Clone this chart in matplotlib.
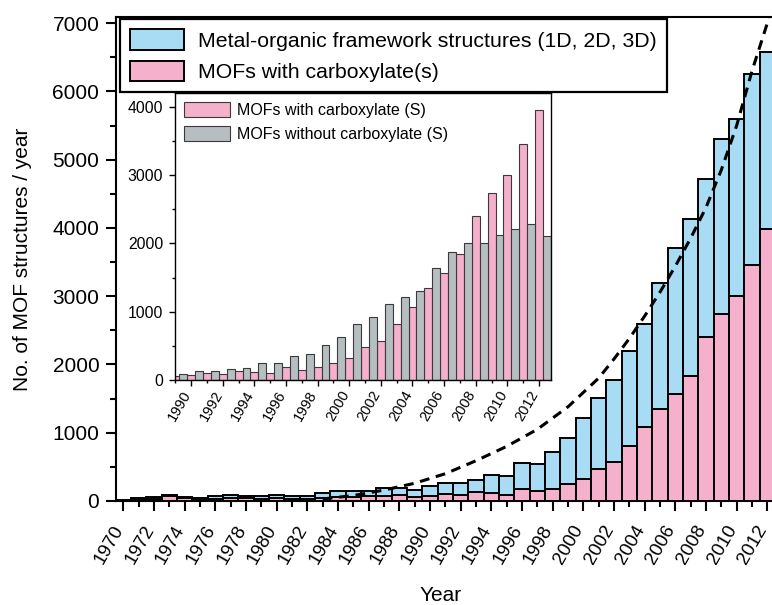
import matplotlib
matplotlib.use('Agg')
import matplotlib.pyplot as plt
import numpy as np
from matplotlib.ticker import MultipleLocator
from matplotlib.patches import Patch

plt.rcParams['font.family'] = ['Liberation Sans', 'DejaVu Sans']

# ---------------- data ----------------
years = list(range(1970, 2013))
total_mofs = [15, 40, 54, 85, 59, 44, 69, 88, 78, 73,
              88, 79, 79, 113, 142, 146, 146, 190, 190, 156,
              215, 260, 259, 307, 376, 371, 552, 542, 722, 918,
              1220, 1512, 1766, 2190, 2591, 3196, 3700, 4126, 4710, 5300,
              5603, 6261, 6578]
carbox_mofs = [5, 20, 30, 75, 40, 20, 25, 40, 40, 30,
               45, 35, 35, 45, 64, 64, 73, 73, 83, 63,
               73, 105, 90, 125, 112, 93, 183, 142, 181, 244,
               322, 474, 566, 813, 1081, 1342, 1566, 1838, 2400, 2738,
               3003, 3462, 3978]

fit_years = [1983, 1985, 1987, 1989, 1991, 1993, 1995, 1997, 1999, 2001,
             2002, 2003, 2004, 2005, 2006, 2007, 2008, 2009, 2010, 2011,
             2012, 2012.3]
fit_values = [30, 80, 160, 260, 400, 590, 800, 1050, 1380, 1800,
              2080, 2380, 2710, 3060, 3440, 3850, 4300, 4850, 5500, 6300,
              7000, 7400]

inset_years = list(range(1989, 2013))
inset_with = [63, 73, 107, 93, 132, 112, 98, 186, 146, 186,
              244, 327, 479, 571, 816, 1074, 1343, 1563, 1841, 2403,
              2735, 2998, 3457, 3960]
inset_without = [83, 132, 132, 156, 176, 244, 244, 352, 381, 513,
                 635, 816, 918, 1108, 1221, 1304, 1636, 1870, 2012, 2002,
                 2119, 2207, 2281, 2110]

main_xticks = list(range(1970, 2013, 2))
main_xticklabels = [str(y) for y in main_xticks]
main_yticks = [0, 1000, 2000, 3000, 4000, 5000, 6000, 7000]
inset_xticks = list(range(1990, 2013, 2))
inset_xticklabels = [str(y) for y in inset_xticks]
inset_yticks = [0, 1000, 2000, 3000, 4000]

legend_main = ['Metal-organic framework structures (1D, 2D, 3D)', 'MOFs with carboxylate(s)']
legend_inset = ['MOFs with carboxylate (S)', 'MOFs without carboxylate (S)']

# ---------------- style ----------------
BLUE = '#A8DCF5'
PINK = '#F5B0CB'
GREY = '#B6BEC1'

W, H = 772, 605
fig = plt.figure(figsize=(W / 100, H / 100), dpi=100)

ax = fig.add_axes([116 / W, (H - 501) / H, (775 - 116) / W, (501 - 17) / H])
ax.bar(years, total_mofs, width=1.0, color=BLUE, edgecolor='black', linewidth=1.4, zorder=2)
ax.bar(years, carbox_mofs, width=1.0, color=PINK, edgecolor='black', linewidth=1.4, zorder=3)
ax.plot(fit_years, fit_values, color='black', lw=2.2, dashes=(3.2, 2.2), zorder=4)
ax.set_xlim(1969.52, 2012.5)
ax.set_ylim(0, 7090)

ax.set_xticks(main_xticks)
ax.set_xticklabels(main_xticklabels, rotation=60, ha='right', va='baseline',
                   rotation_mode='anchor', fontsize=13.5)
ax.xaxis.set_minor_locator(MultipleLocator(1))
ax.set_yticks(main_yticks)
ax.yaxis.set_minor_locator(MultipleLocator(500))
ax.tick_params(which='major', direction='out', length=7, width=1.5, labelsize=15)
ax.tick_params(axis='x', which='major', pad=13, labelsize=13.5)
ax.tick_params(axis='y', which='major', pad=5)
ax.tick_params(which='minor', direction='out', length=4.3, width=1.5)
for s in ax.spines.values():
    s.set_linewidth(1.5)

ax.set_xlabel('Year', fontsize=15)
ax.xaxis.set_label_coords(0.493, -0.175)
ax.xaxis.label.set_va('top')
ax.set_ylabel('No. of MOF structures / year', fontsize=15)
ax.yaxis.set_label_coords(-0.127, 0.5)

handles = [Patch(facecolor=BLUE, edgecolor='black', linewidth=1.4, label=legend_main[0]),
           Patch(facecolor=PINK, edgecolor='black', linewidth=1.4, label=legend_main[1])]
leg = ax.legend(handles=handles, loc='upper left', bbox_to_anchor=(120 / W, 1 - 19 / H),
                bbox_transform=fig.transFigure, borderaxespad=0, fontsize=15.3, frameon=True,
                fancybox=False, edgecolor='black', framealpha=1, handlelength=2.55,
                handleheight=1.1, handletextpad=0.65, labelspacing=0.48, borderpad=0.48)
leg.get_frame().set_linewidth(1.6)
leg.set_zorder(10)

# ---------------- inset ----------------
axi = fig.add_axes([175 / W, (H - 380) / H, (551 - 175) / W, (380 - 93) / H])
axi.set_facecolor('white')
iy = np.array(inset_years, dtype=float)
axi.bar(iy, inset_with, width=0.5, color=PINK, edgecolor='#3a3a3a', linewidth=0.8, zorder=2)
axi.bar(iy + 0.5, inset_without, width=0.5, color=GREY, edgecolor='#3a3a3a', linewidth=0.8, zorder=2)
axi.set_xlim(1988.98, 2012.76)
axi.set_ylim(0, 4205)
axi.set_xticks(inset_xticks)
axi.set_xticklabels(inset_xticklabels, rotation=60, ha='right', va='baseline',
                    rotation_mode='anchor', fontsize=10.5)
axi.xaxis.set_minor_locator(MultipleLocator(1))
axi.set_yticks(inset_yticks)
axi.yaxis.set_minor_locator(MultipleLocator(500))
axi.tick_params(which='major', direction='out', length=4.5, width=1.0, labelsize=11.3, pad=4)
axi.tick_params(axis='x', which='major', pad=5.5, labelsize=10.5)
axi.tick_params(which='minor', direction='out', length=2.5, width=1.0)
for s in axi.spines.values():
    s.set_linewidth(1.0)

ihandles = [Patch(facecolor=PINK, edgecolor='#3a3a3a', linewidth=0.8, label=legend_inset[0]),
            Patch(facecolor=GREY, edgecolor='#3a3a3a', linewidth=0.8, label=legend_inset[1])]
axi.legend(handles=ihandles, loc='upper left', bbox_to_anchor=(184 / W, 1 - 102 / H),
           bbox_transform=fig.transFigure, borderaxespad=0, borderpad=0, frameon=False,
           fontsize=11.5, handlelength=2.9, handleheight=1.1, handletextpad=0.4, labelspacing=0.5)

fig.savefig('out.png', dpi=100)
